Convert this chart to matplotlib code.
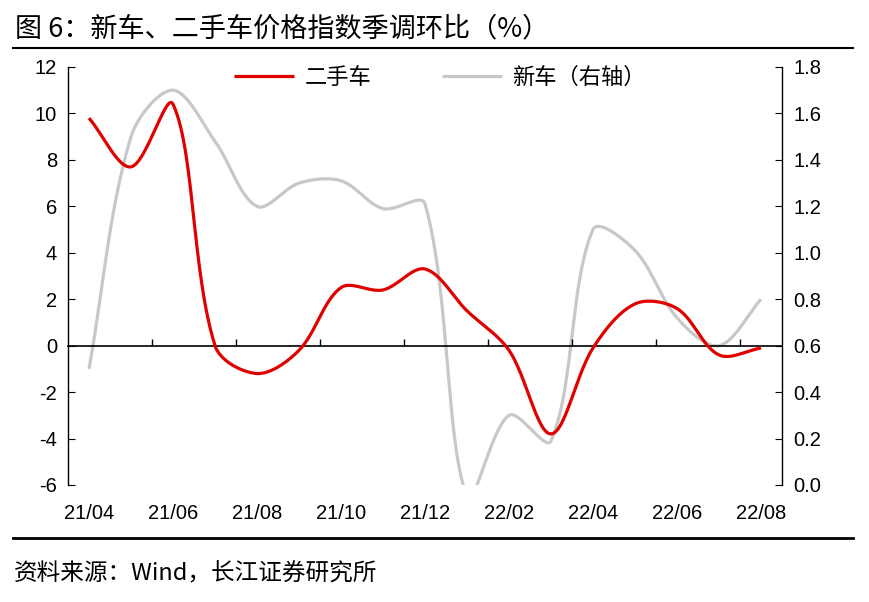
import numpy as np
import matplotlib.pyplot as plt

plt.rcParams['font.family'] = ['Liberation Sans', 'Noto Sans CJK SC']
plt.rcParams['axes.unicode_minus'] = False

# monthly data 21/04 .. 22/08
months = ['21/04', '21/05', '21/06', '21/07', '21/08', '21/09', '21/10', '21/11', '21/12',
          '22/01', '22/02', '22/03', '22/04', '22/05', '22/06', '22/07', '22/08']
used_car = [9.8, 7.7, 10.4, 0.0, -1.2, -0.2, 2.5, 2.4, 3.3,
            1.5, -0.2, -3.8, -0.1, 1.8, 1.6, -0.4, -0.1]
new_car = [0.5, 1.5, 1.70, 1.48, 1.2, 1.30, 1.31, 1.19, 1.21,
           -0.05, 0.30, 0.19, 1.10, 1.01, 0.72, 0.60, 0.80]

RED = '#E00000'
GREY = '#C8C8C8'


def smooth(x, y, kx, ky, n=30):
    # Bezier smoothing with length-weighted tangents (Excel-like smoothed line)
    P = np.column_stack([np.asarray(x, float) * kx, np.asarray(y, float) * ky])
    m = len(P)
    out = [P[0:1]]
    t = np.linspace(0, 1, n)[1:, None]
    for i in range(m - 1):
        p0, p3 = P[i], P[i + 1]
        a = P[i - 1] if i > 0 else P[i]
        b = P[i + 2] if i + 2 < m else P[i + 1]
        d01 = np.linalg.norm(p0 - a)
        d12 = np.linalg.norm(p3 - p0)
        d23 = np.linalg.norm(b - p3)
        c1 = p0 + (p3 - a) * (d12 / (d01 + d12)) / 3 if d01 + d12 > 0 else p0
        c2 = p3 - (b - p0) * (d12 / (d12 + d23)) / 3 if d12 + d23 > 0 else p3
        seg = ((1 - t) ** 3 * p0 + 3 * (1 - t) ** 2 * t * c1
               + 3 * (1 - t) * t ** 2 * c2 + t ** 3 * p3)
        out.append(seg)
    out = np.vstack(out)
    return out[:, 0] / kx, out[:, 1] / ky


fig = plt.figure(figsize=(8.7, 6.02), dpi=100)
ax = fig.add_axes([68 / 870, 1 - 485 / 602, 714 / 870, 418 / 602])
ax2 = ax.twinx()

xi = np.arange(len(months))
kx = 714 / len(months)
sx, sy = smooth(xi, new_car, kx, 418 / 1.8)
l2, = ax2.plot(sx, sy, color=GREY, lw=2.3, solid_capstyle='butt')
sx, sy = smooth(xi, used_car, kx, 418 / 18)
l1, = ax.plot(sx, sy, color=RED, lw=2.3, solid_capstyle='butt')
ax.set_zorder(ax2.get_zorder() + 1)
ax.patch.set_visible(False)

ax.set_xlim(-0.5, len(months) - 0.5)
ax.set_ylim(-6, 12)
ax.set_yticks(np.arange(-6, 13, 2))
ax2.set_ylim(0, 1.8)
ax2.set_yticks(np.arange(0, 1.81, 0.2))
ax2.set_yticklabels(['%.1f' % v for v in np.arange(0, 1.81, 0.2)])

for a in (ax, ax2):
    a.spines['top'].set_visible(False)
    a.spines['bottom'].set_visible(False)
    a.spines['left'].set_linewidth(1.0)
    a.spines['right'].set_linewidth(1.0)
ax.spines['right'].set_visible(False)
ax2.spines['left'].set_visible(False)

ax.tick_params(axis='y', direction='in', length=5, labelsize=14.5, pad=8)
ax2.tick_params(axis='y', direction='in', length=5, labelsize=14.5, pad=8)

# category labels at the bottom, every second month
ax.set_xticks(xi[::2])
ax.set_xticklabels(months[::2], fontsize=14.5)
ax.tick_params(axis='x', length=0, pad=14)

# horizontal axis line at 0 with boundary ticks
sec = ax.secondary_xaxis(6 / 18)
sec.set_xticks(np.arange(1.5, len(months) - 1, 2))
sec.tick_params(axis='x', direction='in', length=5, labelbottom=False, width=1)
sec.spines['bottom'].set_linewidth(1.2)

ax.legend([l1, l2], ['二手车', '新车（右轴）'], loc='center', bbox_to_anchor=(0.521, 0.976),
          ncol=2, frameon=False, handlelength=2.7, columnspacing=3.2,
          handletextpad=0.45, prop={'family': ['Noto Sans CJK SC'], 'size': 16})

fig.text(15 / 870, 1 - 29 / 602, '图 6：新车、二手车价格指数季调环比（%）', fontsize=19.5,
         va='center', ha='left', family=['Noto Sans CJK SC'])
fig.add_artist(plt.Line2D([13 / 870, 853 / 870], [1 - 48 / 602, 1 - 48 / 602], color='black', lw=1.5))
fig.add_artist(plt.Line2D([13 / 870, 853 / 870], [1 - 538 / 602, 1 - 538 / 602], color='black', lw=2.0))
fig.text(14 / 870, 1 - 574 / 602, '资料来源：Wind，长江证券研究所', fontsize=17,
         va='center', ha='left', family=['Noto Sans CJK SC', 'Liberation Sans'])

fig.savefig('out.png', dpi=100)
